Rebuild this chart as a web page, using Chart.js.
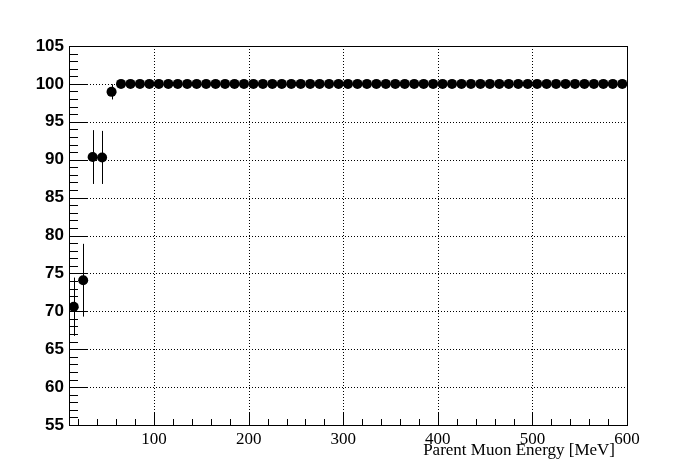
<!DOCTYPE html>
<html>
<head>
<meta charset="utf-8">
<script src="https://cdn.jsdelivr.net/npm/chart.js@4"></script>
<style>
  body { margin: 0; background: #fff; }
  canvas { display: block; }
</style>
</head>
<body>
<canvas id="canvas" width="696" height="472"></canvas>
<script>
const ctx = document.getElementById('canvas').getContext('2d');

// bin centres of the parent muon energy histogram [MeV]
const energy = [15, 25, 35, 45, 55, 65, 75, 85, 95, 105, 115, 125, 135, 145, 155, 165, 175, 185, 195,
  205, 215, 225, 235, 245, 255, 265, 275, 285, 295, 305, 315, 325, 335, 345, 355, 365, 375, 385, 395,
  405, 415, 425, 435, 445, 455, 465, 475, 485, 495, 505, 515, 525, 535, 545, 555, 565, 575, 585, 595];
const efficiency = [70.6, 74.1, 90.35, 90.3, 98.95, 100, 100, 100, 100, 100, 100, 100, 100, 100, 100, 100, 100, 100, 100,
  100, 100, 100, 100, 100, 100, 100, 100, 100, 100, 100, 100, 100, 100, 100, 100, 100, 100, 100, 100,
  100, 100, 100, 100, 100, 100, 100, 100, 100, 100, 100, 100, 100, 100, 100, 100, 100, 100, 100, 100];
const effError = [3.85, 4.8, 3.55, 3.5, 1.0, 0, 0, 0, 0, 0, 0, 0, 0, 0, 0, 0, 0, 0, 0,
  0, 0, 0, 0, 0, 0, 0, 0, 0, 0, 0, 0, 0, 0, 0, 0, 0, 0, 0, 0,
  0, 0, 0, 0, 0, 0, 0, 0, 0, 0, 0, 0, 0, 0, 0, 0, 0, 0, 0, 0];
const binHalfWidth = 5;

const xTicks = [100, 200, 300, 400, 500, 600];
const yTicks = [55, 60, 65, 70, 75, 80, 85, 90, 95, 100, 105];
const xTitle = "Parent Muon Energy [MeV]";

// ROOT style frame : dotted grid, inward ticks, error bars
const rootFrame = {
  id: 'rootFrame',
  beforeDatasetsDraw(chart) {
    const c = chart.ctx;
    const a = chart.chartArea;
    const xs = chart.scales.x, ys = chart.scales.y;
    c.save();
    c.strokeStyle = '#000';
    c.lineWidth = 1;

    // grid
    c.setLineDash([1, 2]);
    c.beginPath();
    xTicks.forEach(v => {
      const px = Math.round(xs.getPixelForValue(v)) + 0.5;
      if (px > a.left + 1 && px < a.right - 1) { c.moveTo(px, a.top); c.lineTo(px, a.bottom); }
    });
    yTicks.forEach(v => {
      const py = Math.round(ys.getPixelForValue(v)) + 0.5;
      if (py > a.top + 1 && py < a.bottom - 1) { c.moveTo(a.left, py); c.lineTo(a.right, py); }
    });
    c.stroke();
    c.setLineDash([]);

    // frame
    c.strokeRect(Math.round(a.left) + 0.5, Math.round(a.top) + 0.5,
      Math.round(a.right - a.left), Math.round(a.bottom - a.top));

    // y ticks
    c.beginPath();
    for (let v = ys.min; v <= ys.max + 1e-6; v += 1) {
      const py = Math.round(ys.getPixelForValue(v)) + 0.5;
      const len = (Math.round(v) % 5 === 0) ? 18 : 9;
      c.moveTo(a.left, py); c.lineTo(a.left + len, py);
    }
    // x ticks
    for (let v = 20; v <= xs.max + 1e-6; v += 20) {
      const px = Math.round(xs.getPixelForValue(v)) + 0.5;
      const len = (v % 100 === 0) ? 12 : 6;
      c.moveTo(px, a.bottom); c.lineTo(px, a.bottom - len);
    }
    c.stroke();

    // error bars
    c.beginPath();
    energy.forEach((e, i) => {
      const px = xs.getPixelForValue(e);
      const py = Math.round(ys.getPixelForValue(efficiency[i])) + 0.5;
      c.moveTo(xs.getPixelForValue(e - binHalfWidth), py);
      c.lineTo(xs.getPixelForValue(e + binHalfWidth), py);
      if (effError[i] > 0) {
        const cx = Math.round(px) + 0.5;
        c.moveTo(cx, ys.getPixelForValue(efficiency[i] + effError[i]));
        c.lineTo(cx, ys.getPixelForValue(efficiency[i] - effError[i]));
      }
    });
    c.stroke();
    c.restore();
  },
  afterDraw(chart) {
    const c = chart.ctx;
    c.save();
    c.fillStyle = '#000';
    c.font = '17px "Liberation Serif"';
    c.textAlign = 'right';
    c.textBaseline = 'alphabetic';
    c.fillText(xTitle, 615, 455);
    c.restore();
  }
};

let chart = new Chart(ctx, {
  type: 'scatter',
  data: {
    datasets: [
      {
        label: 'efficiency',
        data: energy.map((e, i) => ({ x: e, y: efficiency[i] })),
        backgroundColor: '#000',
        borderWidth: 0,
        pointRadius: 5,
        pointHoverRadius: 5
      }
    ]
  },
  options: {
    responsive: false,
    animation: false,
    events: [],
    layout: { padding: { top: 46, right: 69, left: 0, bottom: 0 } },
    plugins: { legend: { display: false }, tooltip: { enabled: false } },
    scales: {
      x: {
        type: 'linear',
        min: 10,
        max: 600,
        grid: { display: false, drawTicks: false },
        border: { display: false },
        afterBuildTicks: s => { s.ticks = xTicks.map(v => ({ value: v })); },
        afterFit: s => { s.height = 47; },
        ticks: {
          color: '#000',
          padding: 4,
          maxRotation: 0,
          font: { family: '"Liberation Serif"', size: 17 }
        }
      },
      y: {
        type: 'linear',
        min: 55,
        max: 105,
        grid: { display: false, drawTicks: false },
        border: { display: false },
        afterBuildTicks: s => { s.ticks = yTicks.map(v => ({ value: v })); },
        afterFit: s => { s.width = 69; },
        ticks: {
          color: '#000',
          padding: 5,
          font: { family: '"Liberation Sans"', size: 17, weight: 'bold' }
        }
      }
    }
  },
  plugins: [rootFrame]
});
</script>
</body>
</html>
